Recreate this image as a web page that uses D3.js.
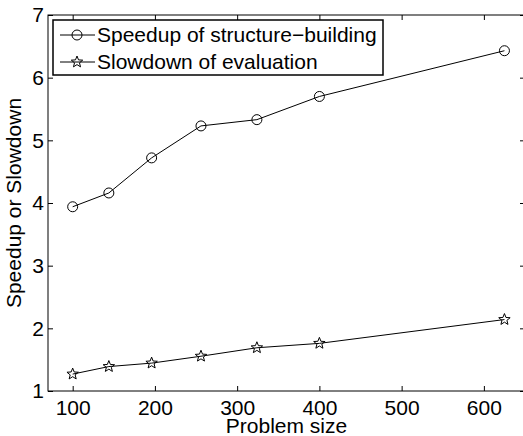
<!DOCTYPE html>
<html>
<head>
<meta charset="utf-8">
<script src="https://cdn.jsdelivr.net/npm/d3@7"></script>
<style>
  body { margin: 0; background: #fff; }
  svg { display: block; font-family: "Liberation Sans", Arial, Helvetica, sans-serif; }
</style>
</head>
<body>
<div id="chart"></div>
<script>
'use strict';

// data
const problemSize = [100, 144, 196, 256, 324, 400, 625];
const speedup = [3.94, 4.16, 4.72, 5.23, 5.33, 5.70, 6.43];
const slowdown = [1.27, 1.39, 1.445, 1.555, 1.69, 1.76, 2.14];
const seriesNames = ['Speedup of structure\u2212building', 'Slowdown of evaluation'];
const xTicks = [100, 200, 300, 400, 500, 600];
const yTicks = [1, 2, 3, 4, 5, 6, 7];

const config = { width: 523, height: 436, fontSize: 21 };
const margin = { top: 15, right: -2, bottom: 45, left: 48 };
const width = config.width - margin.left - margin.right;
const height = config.height - margin.top - margin.bottom;

const svg = d3.select('#chart').append('svg')
  .attr('width', config.width)
  .attr('height', config.height);

const x = d3.scaleLinear().domain([70, 650]).range([0, width]);
const y = d3.scaleLinear().domain([1, 7]).range([height, 0]);

const g = svg.append('g').attr('transform', `translate(${margin.left},${margin.top})`);

const styleAxis = sel => {
  sel.select('.domain').remove();
  sel.selectAll('line').attr('stroke', '#000');
  sel.selectAll('text').style('font-size', `${config.fontSize}px`).attr('fill', '#000');
};

// box + ticks, matlab style (ticks inside on all four sides)
g.append('g').attr('transform', `translate(0,${height})`)
  .call(d3.axisBottom(x).tickValues(xTicks).tickFormat(d3.format('d')).tickSizeInner(-5).tickSizeOuter(0).tickPadding(9))
  .call(styleAxis);
g.append('g')
  .call(d3.axisTop(x).tickValues(xTicks).tickSizeInner(-5).tickSizeOuter(0).tickFormat(''))
  .call(styleAxis);
g.append('g')
  .call(d3.axisLeft(y).tickValues(yTicks).tickFormat(d3.format('d')).tickSizeInner(-5).tickSizeOuter(0).tickPadding(4))
  .call(styleAxis);
g.append('g').attr('transform', `translate(${width},0)`)
  .call(d3.axisRight(y).tickValues(yTicks).tickSizeInner(-5).tickSizeOuter(0).tickFormat(''))
  .call(styleAxis);

g.append('rect')
  .attr('width', width)
  .attr('height', height)
  .attr('fill', 'none')
  .attr('stroke', '#000')
  .attr('stroke-width', 1);

// axis titles
svg.append('text')
  .attr('x', margin.left + width / 2)
  .attr('y', 433)
  .attr('text-anchor', 'middle')
  .style('font-size', `${config.fontSize}px`)
  .text('Problem size');

svg.append('text')
  .attr('transform', `translate(21,${margin.top + height / 2}) rotate(-90)`)
  .attr('text-anchor', 'middle')
  .style('font-size', `${config.fontSize}px`)
  .text('Speedup or Slowdown');

const starPath = (r, ri) => {
  const pts = [];
  for (let i = 0; i < 10; i++) {
    const a = -Math.PI / 2 + i * Math.PI / 5;
    const rr = i % 2 ? ri : r;
    pts.push([rr * Math.cos(a), rr * Math.sin(a)]);
  }
  return 'M' + pts.map(p => p.map(v => v.toFixed(2)).join(',')).join('L') + 'Z';
};

const drawMarker = (sel, type) => {
  if (type === 'circle') {
    sel.append('circle').attr('r', 5);
  } else {
    sel.append('path').attr('d', starPath(6, 2.6));
  }
  sel.selectAll('circle, path')
    .attr('fill', 'none')
    .attr('stroke', '#000')
    .attr('stroke-width', 1);
};

const line = d3.line().x(d => x(d[0])).y(d => y(d[1]));

const series = [
  { name: seriesNames[0], values: speedup, marker: 'circle' },
  { name: seriesNames[1], values: slowdown, marker: 'star' }
];

series.forEach(s => {
  const pts = problemSize.map((p, i) => [p, s.values[i]]);
  g.append('path')
    .datum(pts)
    .attr('d', line)
    .attr('fill', 'none')
    .attr('stroke', '#000')
    .attr('stroke-width', 1);
  g.selectAll(null)
    .data(pts)
    .enter()
    .append('g')
    .attr('transform', d => `translate(${x(d[0])},${y(d[1])})`)
    .each(function() { drawMarker(d3.select(this), s.marker); });
});

// legend
const legend = svg.append('g').attr('transform', 'translate(53,20)');
legend.append('rect')
  .attr('width', 330)
  .attr('height', 55)
  .attr('fill', '#fff')
  .attr('stroke', '#000')
  .attr('stroke-width', 1.5);

series.forEach((s, i) => {
  const row = legend.append('g').attr('transform', `translate(0,${15 + i * 27})`);
  row.append('line')
    .attr('x1', 7).attr('x2', 42)
    .attr('stroke', '#000')
    .attr('stroke-width', 1);
  row.append('g').attr('transform', 'translate(24,0)').call(sel => drawMarker(sel, s.marker));
  row.append('text')
    .attr('x', 44)
    .attr('dy', '0.35em')
    .style('font-size', `${config.fontSize}px`)
    .text(s.name);
});
</script>
</body>
</html>
